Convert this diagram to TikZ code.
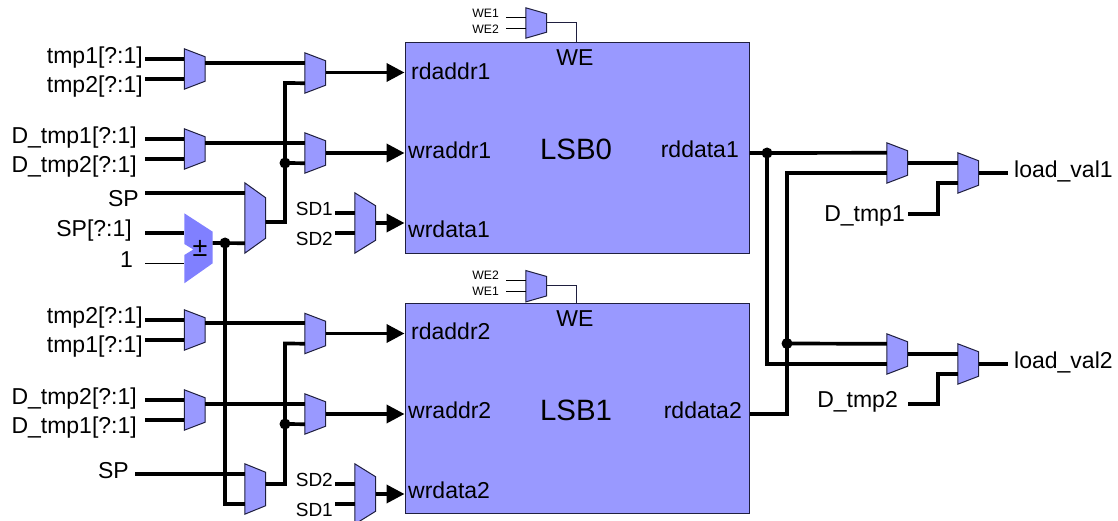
\documentclass[tikz,border=0pt]{standalone}
\usepackage{fontspec}
\setmainfont{Liberation Sans}
\usetikzlibrary{arrows.meta,positioning,calc}
\definecolor{muxfill}{HTML}{9999FF}
\definecolor{addfill}{HTML}{8080FF}
\definecolor{edge}{HTML}{1F1F3F}
\tikzset{
  wire/.style={line width=3.7pt,black},
  thinwire/.style={line width=1pt,black},
  feed/.style={wire,-{Triangle[length=18pt,width=18pt]}},
  dot/.style={circle,fill=black,inner sep=0pt,minimum size=11pt},
  tag/.style={font=\fontsize{23}{25}\selectfont,inner sep=0pt},
  sdtag/.style={font=\fontsize{19}{21}\selectfont,inner sep=0pt},
  smalltag/.style={font=\fontsize{12.2}{14}\selectfont,inner sep=0pt},
  muxbox/.style={inner sep=0pt,minimum width=20.5pt},
  lsb/.style={draw=edge,fill=muxfill,line width=1pt,inner sep=0pt,minimum width=344pt,minimum height=210.5pt}
}
% name, left x, top y, height, slant of the right side, offset of the inputs
\newcommand{\mux}[6]{
  \node[muxbox,minimum height=#4 pt] (#1) at (#2+10.25,#3+#4/2) {};
  \draw[fill=muxfill,draw=edge,line width=1pt] (#1.north west)--([yshift=-#5 pt]#1.north east)--([yshift=#5 pt]#1.south east)--(#1.south west)--cycle;
  \coordinate (#1-a) at ([yshift=-#6 pt]#1.north west);
  \coordinate (#1-b) at ([yshift=#6 pt]#1.south west);
}
\begin{document}
\begin{tikzpicture}[x=1pt,y=-1pt]
  \useasboundingbox (0,0) rectangle (1118,521);
  % memory blocks
  \node[lsb] (lsb0) at (577,148) {};
  \node[lsb] (lsb1) at (577,408.7) {};
  \node[tag,font=\fontsize{29.4}{31}\selectfont] (name0) at (576,149) {LSB0};
  \node[tag,font=\fontsize{29.4}{31}\selectfont] (name1) at (576,410) {LSB1};
  \foreach \n/\t/\x/\y in {ra1/rdaddr1/411/71,wa1/wraddr1/408/150,wd1/wrdata1/408/229,ra2/rdaddr2/411/331,wa2/wraddr2/408/410,wd2/wrdata2/408/490}
     {\node[tag,anchor=west] (\n) at (\x,\y) {\t};}
  \node[tag,anchor=east] (rd1) at (739,149) {rddata1};
  \node[tag,anchor=east] (rd2) at (742,410) {rddata2};
  \node[tag] (we0) at (575,58) {WE};
  \node[tag] (we1) at (575,319) {WE};
  % muxes
  \mux{mA}{184.5}{49}{40}{8}{10}
  \mux{mB}{184.5}{129}{40}{8}{10}
  \mux{mC}{184.5}{310}{40}{8}{10}
  \mux{mD}{184.5}{390}{40}{8}{10}
  \mux{mE}{305}{53}{40}{8}{10}
  \mux{mF}{305}{133}{40}{8}{10}
  \mux{mG}{305}{313.5}{40}{8}{10}
  \mux{mH}{305}{394}{40}{8}{10}
  \mux{mI}{245}{183}{70}{15}{10}
  \mux{mJ}{245}{464}{50}{8.5}{10}
  \mux{mK}{355}{193}{60}{13}{20}
  \mux{mL}{355}{464}{60}{13}{20}
  \mux{mM}{887}{143}{40}{8}{10}
  \mux{mN}{958}{153}{40}{8}{10}
  \mux{mO}{887}{334}{40}{8}{10}
  \mux{mP}{958}{344}{40}{8}{10}
  \mux{mQ}{526}{8}{30}{6}{10}
  \mux{mR}{526}{270.7}{31}{6}{10}
  % adder
  \fill[addfill] (184.3,213.3)--(212.7,231.7)--(212.7,263.3)--(184.3,283.3)--(184.3,255)--(193.3,249.5)--(184.3,244)--cycle;
  \node[tag,font=\fontsize{27}{29}\selectfont] (pm) at (200,248) {±};
  \coordinate (addin1) at (184.3,233);
  \coordinate (addin2) at (184.3,263);
  \coordinate (addout) at (212.7,243);
  % input labels, right aligned
  \foreach \n/\t/\x/\y in {a1/tmp1[?:1]/143/58,a2/tmp2[?:1]/143/87,b1/D\_tmp1[?:1]/137/138,b2/D\_tmp2[?:1]/137/167,sp/SP/139/199,spv/SP[?:1]/132/231,one/1/133/260,c1/tmp2[?:1]/143/318,c2/tmp1[?:1]/143/347,d1/D\_tmp2[?:1]/137/399,d2/D\_tmp1[?:1]/137/428,spb/SP/129/471,dt1/D\_tmp1/905/216,dt2/D\_tmp2/898/402}
     {\node[tag,anchor=east] (\n) at (\x,\y) {\t};}
  \foreach \n/\t/\y in {k1/SD1/209,k2/SD2/239,l1/SD2/480,l2/SD1/510}
     {\node[sdtag,anchor=east] (\n) at (333,\y) {\t};}
  \node[tag,anchor=west] (lv1) at (1014,171) {load\_val1};
  \node[tag,anchor=west] (lv2) at (1014,362) {load\_val2};
  \foreach \n/\t/\y in {ta/WE1/13.5,tb/WE2/29,ua/WE2/275,ub/WE1/291}
     {\node[smalltag,anchor=east] (\n) at (499,\y) {\t};}
  % input wires
  \foreach \m in {mA-a,mA-b,mB-a,mB-b,mC-a,mC-b,mD-a,mD-b,mI-a,addin1}
     {\coordinate (s) at (145,0); \draw[wire] (s |- \m) -- (\m);}
  \draw[thinwire] (145,0 |- addin2) -- (addin2);
  \draw[wire] (135,0 |- mJ-a) -- (mJ-a);
  \foreach \m in {mK-a,mK-b,mL-a,mL-b}
     {\coordinate (s) at (335,0); \draw[wire] (s |- \m) -- (\m);}
  \foreach \m in {mQ-a,mQ-b,mR-a,mR-b}
     {\coordinate (s) at (506,0); \draw[thinwire] (s |- \m) -- (\m);}
  % first rank to second rank
  \draw[wire] (mA.east |- mE-a) -- (mE-a);
  \draw[wire] (mB.east |- mF-a) -- (mF-a);
  \draw[wire] (mC.east |- mG-a) -- (mG-a);
  \draw[wire] (mD.east |- mH-a) -- (mH-a);
  \draw[wire] (mI.east |- 0,222) -| (285,83) -- (mE-b);
  \draw[wire] (mJ.east |- 0,484) -| (285,343.5) -- (mG-b);
  \draw[wire] (285,163) -- (mF-b);
  \draw[wire] (285,424) -- (mH-b);
  \node[dot] (j1) at (285,163) {};
  \node[dot] (j2) at (285,424) {};
  % adder result
  \draw[wire] (addout) -- (mI-b);
  \draw[wire] (225,243) |- (mJ-b);
  \node[dot] (j3) at (225,243) {};
  % into the memories
  \foreach \m/\y in {mE/72.5,mF/153,mK/223,mG/333.5,mH/414,mL/494}
     {\draw[feed] (\m.east |- 0,\y) -- (lsb0.west |- 0,\y);}
  \draw[line width=1pt,edge] (mQ.east |- 0,22.7) -| (576,0 |- lsb0.north);
  \draw[line width=1pt,edge] (mR.east |- 0,285) -| (576,0 |- lsb1.north);
  % read side
  \draw[wire] (lsb0.east |- 0,153) -- (mM-a);
  \draw[wire] (767,153) |- (mO-b);
  \draw[wire] (mM-b) -| (787,414) -- (lsb1.east |- 0,414);
  \draw[wire] (787,343.5) -- (mO-a);
  \node[dot] (j4) at (767,153) {};
  \node[dot] (j5) at (787,343.5) {};
  \draw[wire] (mM.east |- mN-a) -- (mN-a);
  \draw[wire] (mO.east |- mP-a) -- (mP-a);
  \draw[wire] (908,214) -| (938,0 |- mN-b) -- (mN-b);
  \draw[wire] (908,404) -| (938,0 |- mP-b) -- (mP-b);
  \draw[wire] (mN.east |- 0,173) -- (1008,173);
  \draw[wire] (mP.east |- 0,364) -- (1008,364);
\end{tikzpicture}
\end{document}
